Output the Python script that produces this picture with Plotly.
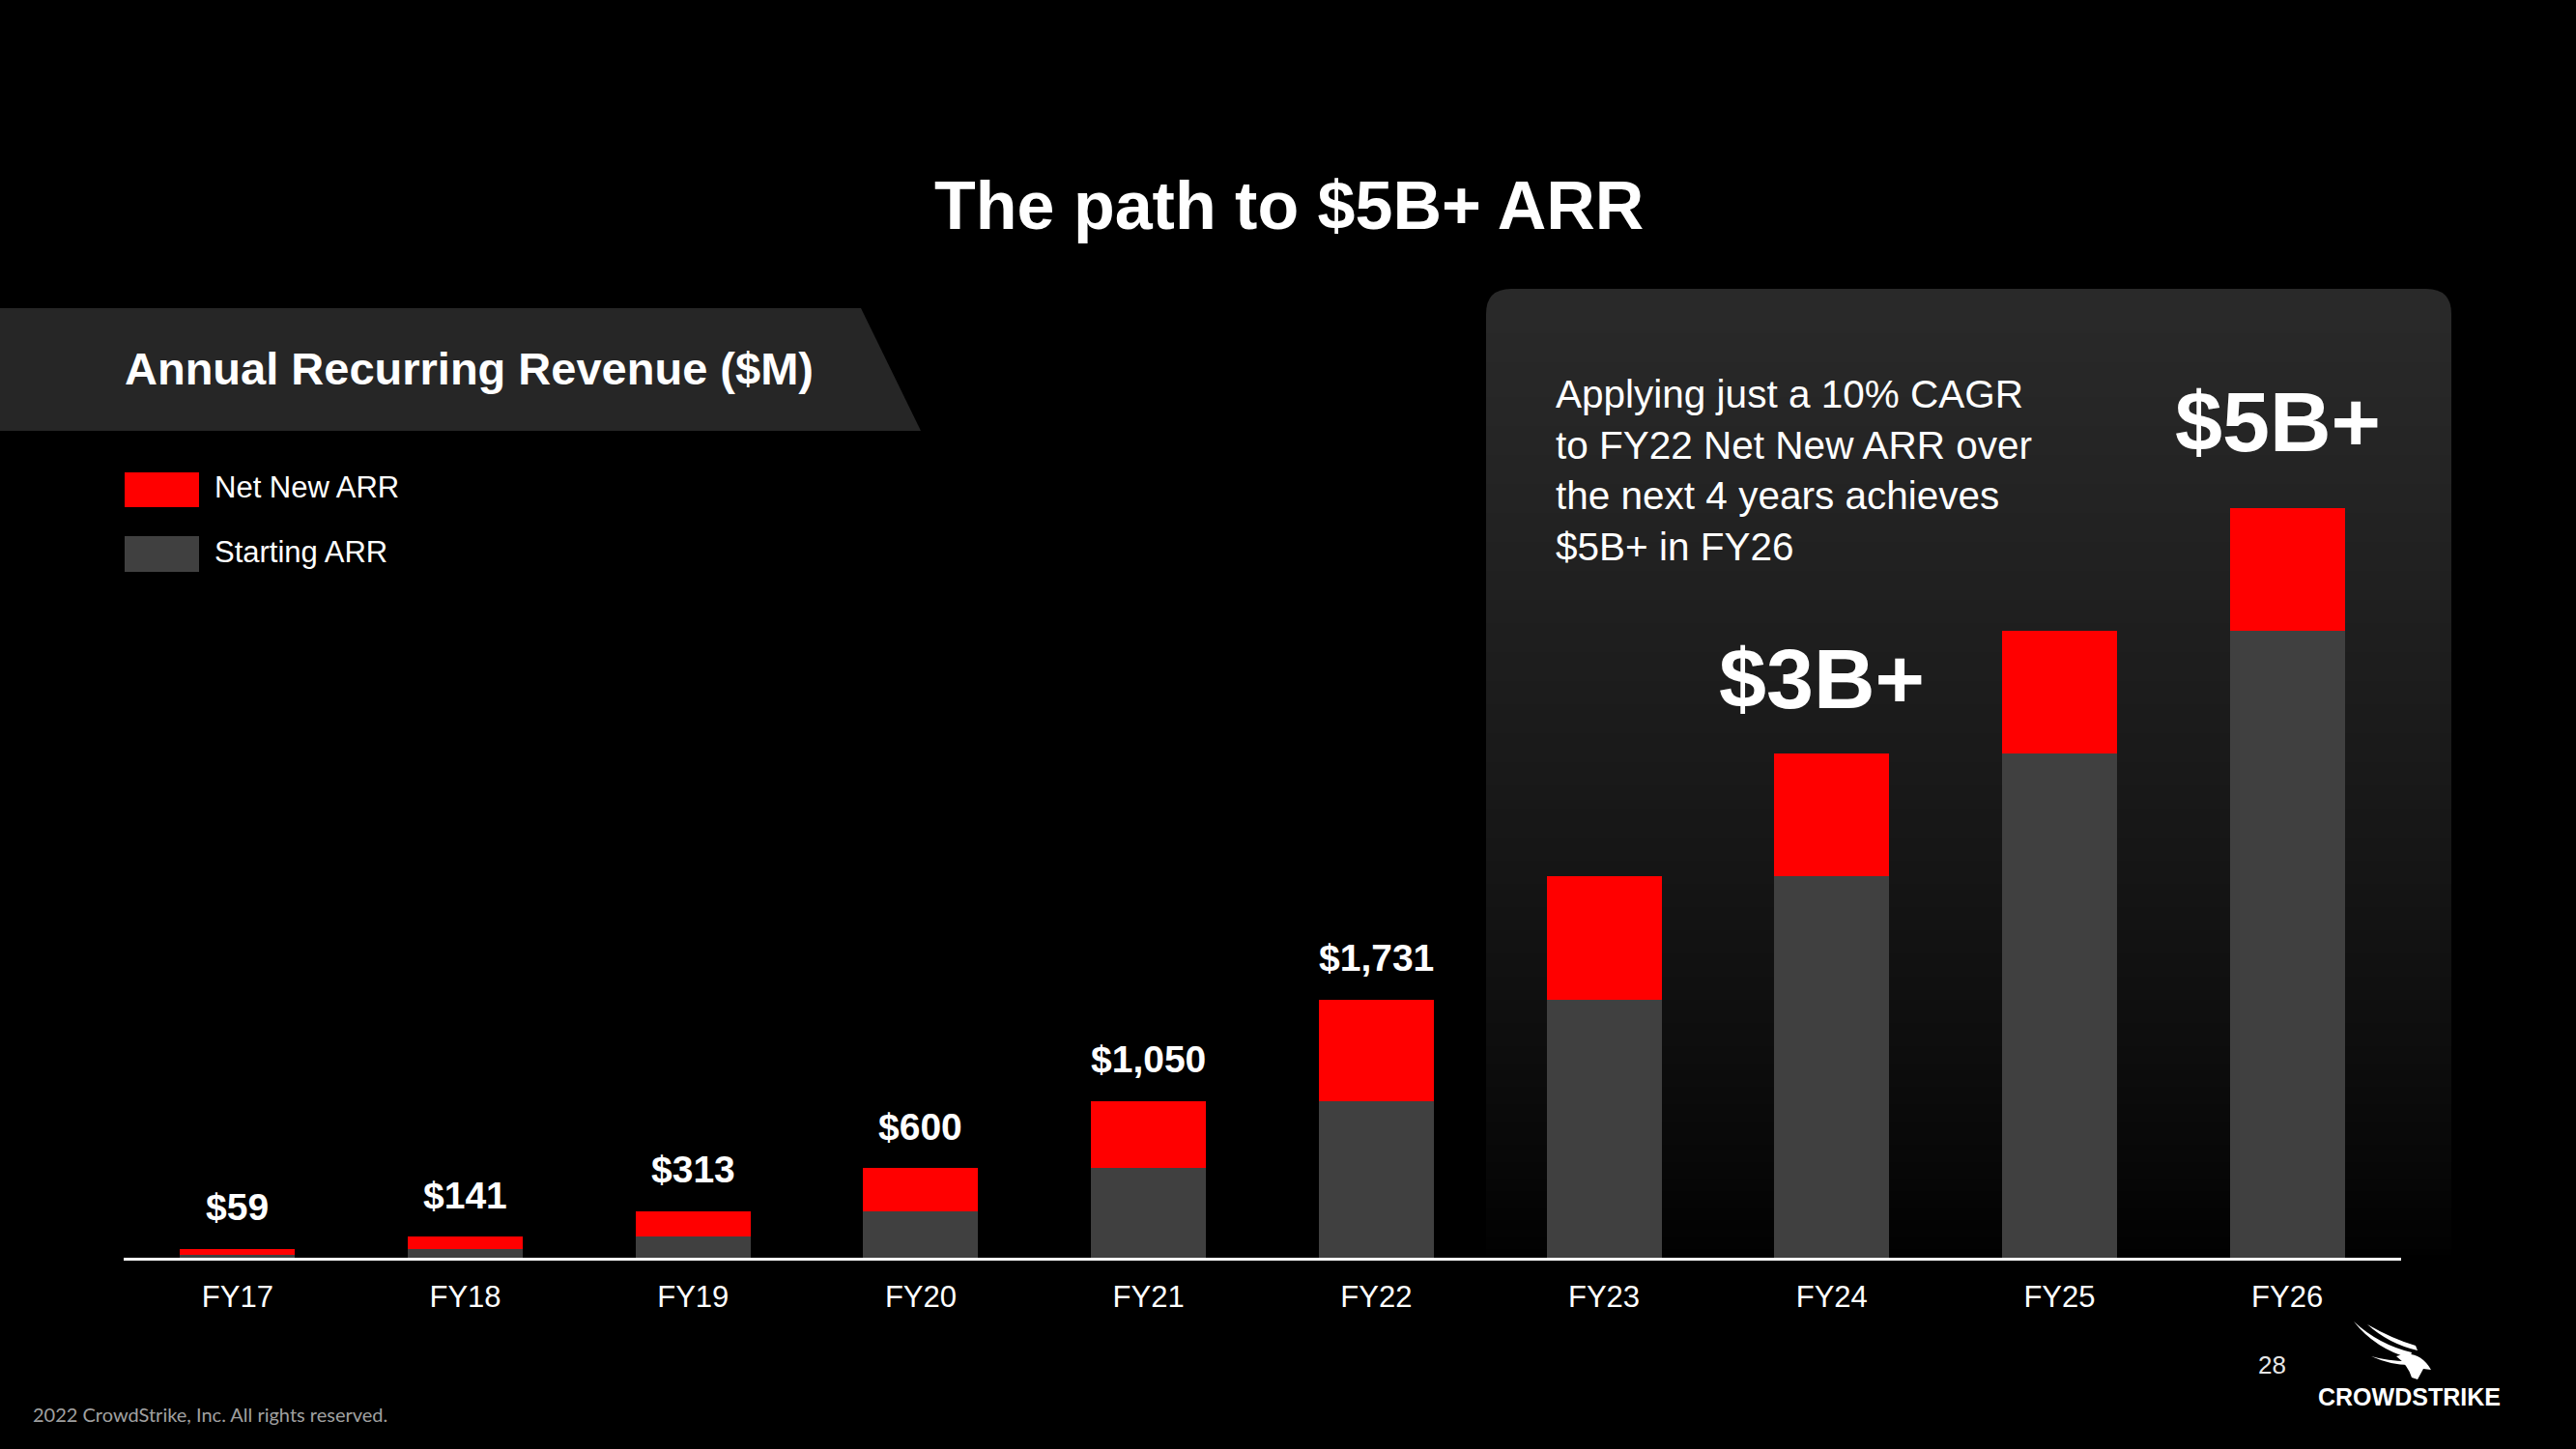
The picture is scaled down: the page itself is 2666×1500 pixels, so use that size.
import plotly.graph_objects as go

W, H = 2666, 1500

# ---------------- data ----------------
categories = ["FY17", "FY18", "FY19", "FY20", "FY21", "FY22", "FY23", "FY24", "FY25", "FY26"]
starting_arr = [20, 59, 141, 313, 600, 1050, 1731, 2557, 3380, 4200]
net_new_arr = [39, 82, 172, 287, 450, 681, 826, 823, 820, 824]
value_labels = ["$59", "$141", "$313", "$600", "$1,050", "$1,731", "", "", "", ""]
callout_cats = ["FY24", "FY26"]
callout_text = ["$3B+", "$5B+"]
panel_lines = ["Applying just a 10% CAGR", "to FY22 Net New ARR over",
               "the next 4 years achieves", "$5B+ in FY26"]

RED = "#ff0000"
GRAY = "#404040"
FONT = "Liberation Sans, Arial, sans-serif"

totals = [s + n for s, n in zip(starting_arr, net_new_arr)]


def px(x):
    return x / W


def py(y):
    return 1 - y / H


fig = go.Figure()
fig.add_bar(x=categories, y=starting_arr, name="Starting ARR",
            marker=dict(color=GRAY, line=dict(width=0)), hoverinfo="skip")
fig.add_bar(x=categories, y=net_new_arr, name="Net New ARR",
            marker=dict(color=RED, line=dict(width=0)), hoverinfo="skip")

shapes = []

# left banner
shapes.append(dict(type="path", xref="paper", yref="paper", layer="below",
                   path=f"M {px(0)} {py(319)} L {px(891)} {py(319)} L {px(953)} {py(446)} L {px(0)} {py(446)} Z",
                   fillcolor="#262626", line=dict(width=0)))

# right panel with vertical gradient to black
X0, X1, Y0, Y1, R = 1538, 2537, 299, 1302, 26


def shade(y):
    t = min(max((y - Y0) / (Y1 - Y0), 0), 1)
    c = int(round(42 * (1 - t) ** 0.75))
    return f"rgb({c},{c},{c})"


top_end = Y0 + 40
shapes.append(dict(type="path", xref="paper", yref="paper", layer="below",
                   path=(f"M {px(X0)} {py(top_end + 1)} L {px(X0)} {py(Y0 + R)} "
                         f"Q {px(X0)} {py(Y0)} {px(X0 + R)} {py(Y0)} "
                         f"L {px(X1 - R)} {py(Y0)} Q {px(X1)} {py(Y0)} {px(X1)} {py(Y0 + R)} "
                         f"L {px(X1)} {py(top_end + 1)} Z"),
                   fillcolor=shade(Y0 + 20), line=dict(width=0)))
step = 6
y = top_end
while y < Y1:
    yb = min(y + step, Y1)
    shapes.append(dict(type="rect", xref="paper", yref="paper", layer="below",
                       x0=px(X0), x1=px(X1), y0=py(y), y1=py(min(yb + 1, Y1)),
                       fillcolor=shade((y + yb) / 2), line=dict(width=0)))
    y = yb

# legend swatches
shapes.append(dict(type="rect", xref="paper", yref="paper", x0=px(129), x1=px(206),
                   y0=py(489), y1=py(525), fillcolor=RED, line=dict(width=0)))
shapes.append(dict(type="rect", xref="paper", yref="paper", x0=px(129), x1=px(206),
                   y0=py(555), y1=py(592), fillcolor=GRAY, line=dict(width=0)))


def pth(cmds):
    out = []
    for c in cmds:
        if isinstance(c, str):
            out.append(c)
        else:
            out.append(f"{px(c[0])} {py(c[1])}")
    return " ".join(out)


# small falcon mark
falcon = [
    ["M", (2436, 1368), "Q", (2458, 1396), (2494, 1406), "L", (2496, 1400), "Q", (2462, 1392), (2436, 1368), "Z"],
    ["M", (2450, 1371), "Q", (2472, 1391), (2502, 1398), "L", (2500, 1393), "Q", (2476, 1386), (2450, 1371), "Z"],
    ["M", (2454, 1404), "Q", (2476, 1414), (2498, 1413), "L", (2497, 1409), "Q", (2475, 1410), (2454, 1404), "Z"],
    ["M", (2480, 1404), "Q", (2503, 1396), (2516, 1418), "L", (2508, 1417), "L", (2502, 1428),
     "L", (2496, 1426), "Q", (2492, 1413), (2480, 1404), "Z"],
]
for f in falcon:
    shapes.append(dict(type="path", xref="paper", yref="paper", path=pth(f),
                       fillcolor="white", line=dict(width=0)))

annotations = []


def txt(text, x, y, size, color="white", weight="normal", xanchor="left", family=FONT):
    annotations.append(dict(text=text, xref="paper", yref="paper", x=px(x), y=py(y),
                            xanchor=xanchor, yanchor="middle", showarrow=False,
                            font=dict(family=family, size=size, color=color, weight=weight)))


# title & headers
txt("The path to $5B+ ARR", W / 2 + 1, 213, 70, weight="bold", xanchor="center")
txt("Annual Recurring Revenue ($M)", 127, 382, 47, weight="bold")
txt("Net New ARR", 220, 504, 31)
txt("Starting ARR", 220, 571, 31)

# panel text
for i, line in enumerate(panel_lines):
    txt(line, 1608, 408 + i * 52.7, 40.5)

# value labels
for c, lab, t in zip(categories, value_labels, totals):
    if lab:
        annotations.append(dict(text=lab, x=c, y=t, xref="x", yref="y", yanchor="middle",
                                yshift=43, showarrow=False,
                                font=dict(family=FONT, size=39, color="white", weight="bold")))

# callouts
for c, lab, ys in zip(callout_cats, callout_text, [77, 89]):
    t = totals[categories.index(c)]
    annotations.append(dict(text=lab, x=c, y=t, xref="x", yref="y", yanchor="middle",
                            yshift=ys, xshift=-10, showarrow=False,
                            font=dict(family=FONT, size=88, color="white", weight="bold")))

# footer
txt("2022 CrowdStrike, Inc. All rights reserved.", 32, 1464, 20, color="#a0a0a0", family="Lato, " + FONT)
txt("28", 2351, 1413, 26, color="#e6e6e6", xanchor="center")
txt("CROWDSTRIKE", 2493, 1446, 25, weight="bold", xanchor="center")

fig.update_layout(
    barmode="stack", bargap=0.495,
    width=W, height=H, margin=dict(l=0, r=0, t=0, b=0),
    paper_bgcolor="#000000", plot_bgcolor="rgba(0,0,0,0)",
    showlegend=False,
    xaxis=dict(domain=[128 / W, 2485 / W], range=[-0.5, 9.5], showline=True,
               linecolor="white", linewidth=3, showgrid=False, zeroline=False,
               ticks="", tickfont=dict(size=31, color="white", family=FONT),
               ticklabelstandoff=11, fixedrange=True),
    yaxis=dict(domain=[198 / H, 1], range=[0, 1302 / 0.1545], visible=False, fixedrange=True),
    shapes=shapes, annotations=annotations,
)

fig.write_html("out.html", config={"displayModeBar": False},
               post_script="document.body.style.margin='0';document.body.style.overflow='hidden';")
